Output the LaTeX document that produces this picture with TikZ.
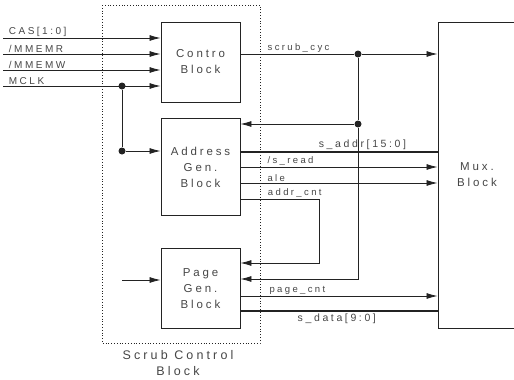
\documentclass[tikz,border=0pt]{standalone}
\usepackage{fontspec}
\setmainfont[LetterSpace=25]{Liberation Sans}
\usetikzlibrary{arrows.meta,positioning}
\definecolor{ink}{RGB}{35,35,35}
\definecolor{txt}{RGB}{70,70,70}
\tikzset{
  block/.style={draw=ink,line width=0.9pt,minimum width=79pt,align=center,text=txt,font=\fontsize{11.5}{16}\selectfont,inner sep=0pt},
  sig/.style={-{Latex[length=11pt,width=6pt]},draw=ink,line width=0.8pt},
  wire/.style={draw=ink,line width=0.8pt},
  bus/.style={draw=ink,line width=2.6pt},
  lbl/.style={text=txt,font=\fontsize{9.5}{11}\selectfont,inner sep=1.5pt},
  inlbl/.style={lbl,font=\fontsize{10}{12}\selectfont},
  buslbl/.style={lbl,font=\fontsize{10.5}{12}\selectfont},
  junc/.style={circle,fill=ink,inner sep=0pt,minimum size=7pt}
}
\begin{document}
\begin{tikzpicture}[x=1pt,y=-1pt,node distance=16pt]
  \useasboundingbox (0,0) rectangle (514,380);
  % scrub control block
  \draw[dotted,line width=0.8pt,ink] (102,5) rectangle (260,343);
  \node[block,minimum height=80pt] (ctl) at (200.5,62) {Contro\\Block};
  \node[block,minimum height=97pt,below=of ctl] (agen) {Address\\Gen.\\Block};
  \node[block,minimum height=80pt,below=32pt of agen] (pgen) {Page\\Gen.\\Block};
  \node[align=center,text=txt,font=\fontsize{12.5}{16}\selectfont] (scb) at (178,363) {Scrub Control\\Block};
  \node[block,minimum width=78pt,minimum height=306pt] (mux) at (477,175) {Mux.\\Block};
  % inputs
  \coordinate (cas) at (3,38);
  \coordinate (rd) at (3,54);
  \coordinate (wr) at (3,70);
  \coordinate (clk) at (3,86);
  \draw[sig] (cas) node[inlbl,above right=0pt and 4pt]{CAS[1:0]} -- (cas -| ctl.west);
  \draw[sig] (rd) node[inlbl,above right=0pt and 4pt]{/MMEMR} -- (rd -| ctl.west);
  \draw[sig] (wr) node[inlbl,above right=0pt and 4pt]{/MMEMW} -- (wr -| ctl.west);
  \draw[sig] (clk) node[inlbl,above right=0pt and 4pt]{MCLK} -- (clk -| ctl.west);
  \node[junc] (j1) at (122,86) {};
  \node[junc] (j2) at (122,151) {};
  \draw[wire] (j1) -- (j2);
  \draw[sig] (j2) -- (j2 -| agen.west);
  \coordinate (pin) at (122,280);
  \draw[sig] (pin) -- (pin -| pgen.west);
  % scrub_cyc feedback
  \node[junc] (j3) at (358,54) {};
  \node[junc] (j4) at (358,124) {};
  \coordinate (fb) at (358,279);
  \draw[sig] (ctl.east |- j3) -- node[lbl,above,pos=0.51]{scrub\_cyc} (j3) -- (j3 -| mux.west);
  \draw[wire] (j3) -- (j4);
  \draw[sig] (j4) -- (j4 -| agen.east);
  \draw[sig] (j4) -- (fb) -- (fb -| pgen.east);
  % address gen outputs
  \coordinate (sa) at (240,152);
  \coordinate (sr) at (240,167);
  \coordinate (al) at (240,183);
  \coordinate (ac) at (240,199);
  \draw[bus] (sa) -- node[buslbl,above,pos=0.62]{s\_addr[15:0]} (sa -| mux.west);
  \draw[sig] (sr) -- node[lbl,above right,pos=0.13]{/s\_read} (sr -| mux.west);
  \draw[sig] (al) -- node[lbl,above right,pos=0.13]{ale} (al -| mux.west);
  \draw[sig] (ac) -- node[lbl,above right,pos=0.33]{addr\_cnt} (319,199) -- (319,263) -- (pgen.east |- 0,263);
  % page gen outputs
  \coordinate (pc) at (240,296);
  \coordinate (sd) at (240,311);
  \draw[sig] (pc) -- node[lbl,above right,pos=0.14]{page\_cnt} (pc -| mux.west);
  \draw[bus] (sd) -- node[buslbl,below,pos=0.49]{s\_data[9:0]} (sd -| mux.west);
\end{tikzpicture}
\end{document}
